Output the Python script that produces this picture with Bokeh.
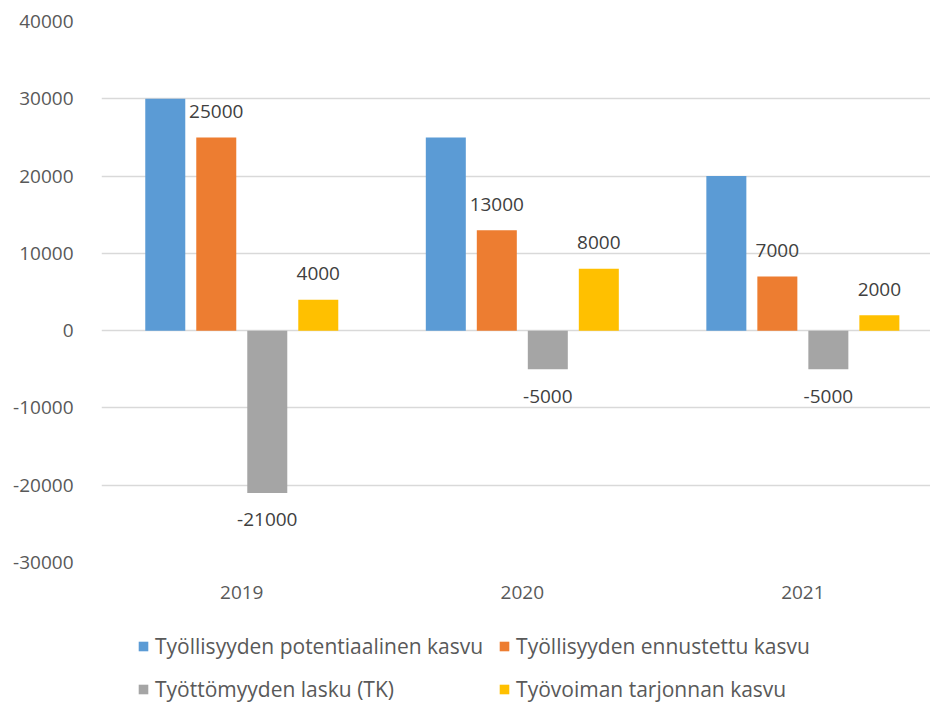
from bokeh.plotting import figure
from bokeh.layouts import column
from bokeh.models import (Range1d, FixedTicker, ColumnDataSource, LabelSet, Legend, LegendItem,
                          NumeralTickFormatter)
from bokeh.core.properties import value
from bokeh.embed import file_html
from bokeh.resources import INLINE

years = ["2019", "2020", "2021"]
series_names = ["Työllisyyden potentiaalinen kasvu", "Työllisyyden ennustettu kasvu",
                "Työttömyyden lasku (TK)", "Työvoiman tarjonnan kasvu"]
potentiaalinen = [30000, 25000, 20000]
ennustettu = [25000, 13000, 7000]
tyottomyys = [-21000, -5000, -5000]
tarjonta = [4000, 8000, 2000]
colors = ["#5B9BD5", "#ED7D31", "#A5A5A5", "#FFC000"]
show_labels = [False, True, True, True]
y_ticks = [-30000, -20000, -10000, 0, 10000, 20000, 30000, 40000]

FONT = "Open Sans"

p = figure(width=930, height=619, output_backend="svg", toolbar_location=None,
           x_range=Range1d(0, 2.955), y_range=Range1d(-30000, 40000),
           min_border_left=101, min_border_right=0, min_border_top=21, min_border_bottom=57)
p.outline_line_color = None
p.background_fill_color = "white"
p.border_fill_color = "white"

offsets = [-0.2727, -0.0909, 0.0909, 0.2727]
bar_w = 0.1426
all_series = [potentiaalinen, ennustettu, tyottomyys, tarjonta]
for k, (vals, col, lab) in enumerate(zip(all_series, colors, show_labels)):
    xs = [i + 0.5 + offsets[k] for i in range(len(years))]
    src = ColumnDataSource(dict(x=xs, top=vals, txt=[str(v) for v in vals],
                                off=[26 if v > 0 else -27 for v in vals]))
    p.vbar(x="x", top="top", bottom=0, width=bar_w, source=src,
           fill_color=col, line_color=None)
    if lab:
        ls = LabelSet(x="x", y="top", text="txt", y_offset="off", source=src,
                      text_align="center", text_baseline="middle",
                      text_font=value(FONT), text_font_size="19px", text_color="#404040")
        p.add_layout(ls)

p.xgrid.grid_line_color = None
p.ygrid.grid_line_color = "#D9D9D9"
p.ygrid.grid_line_width = 1.5
p.ygrid.ticker = FixedTicker(ticks=y_ticks)

p.yaxis.ticker = FixedTicker(ticks=y_ticks)
p.yaxis.formatter = NumeralTickFormatter(format="0")
p.yaxis.axis_line_color = None
p.yaxis.major_tick_line_color = None
p.yaxis.minor_tick_line_color = None
p.yaxis.major_label_standoff = 22
p.yaxis.major_label_text_font = FONT
p.yaxis.major_label_text_font_size = "19px"
p.yaxis.major_label_text_color = "#595959"

p.xaxis.ticker = FixedTicker(ticks=[i + 0.5 for i in range(len(years))])
p.xaxis.major_label_overrides = {i + 0.5: y for i, y in enumerate(years)}
p.xaxis.axis_line_color = None
p.xaxis.major_tick_line_color = None
p.xaxis.minor_tick_line_color = None
p.xaxis.major_label_standoff = 17
p.xaxis.major_label_text_font = FONT
p.xaxis.major_label_text_font_size = "19px"
p.xaxis.major_label_text_color = "#595959"

# Legend in its own strip below the chart
lf = figure(width=930, height=84, output_backend="svg", toolbar_location=None,
            x_axis_location=None, y_axis_location=None,
            x_range=Range1d(0, 1), y_range=Range1d(0, 1),
            min_border_left=101, min_border_right=0, min_border_top=0, min_border_bottom=0)
lf.outline_line_color = None
lf.xgrid.grid_line_color = None
lf.ygrid.grid_line_color = None
items = []
for col, name in zip(colors, series_names):
    # zero-height bar: invisible on the strip, but gives the legend its colour swatch
    r = lf.vbar(x=[0.5], top=[0], bottom=0, width=0.1, fill_color=col, line_color=None)
    items.append(LegendItem(label=name, renderers=[r]))

# column-major fill: row 1 = items 0,1 ; row 2 = items 2,3
ordered = [items[0], items[2], items[1], items[3]]
legend = Legend(items=ordered, ncols=2, location=(36, 0),
                label_text_font=FONT, label_text_font_size="21px",
                label_text_color="#595959", glyph_width=12, glyph_height=12,
                label_height=20, label_standoff=6, spacing=15, label_width=313,
                margin=0, padding=0, border_line_color=None, background_fill_alpha=0)
lf.add_layout(legend, "center")

layout = column(p, lf, spacing=0)
open("out.html", "w").write(file_html(layout, INLINE))
